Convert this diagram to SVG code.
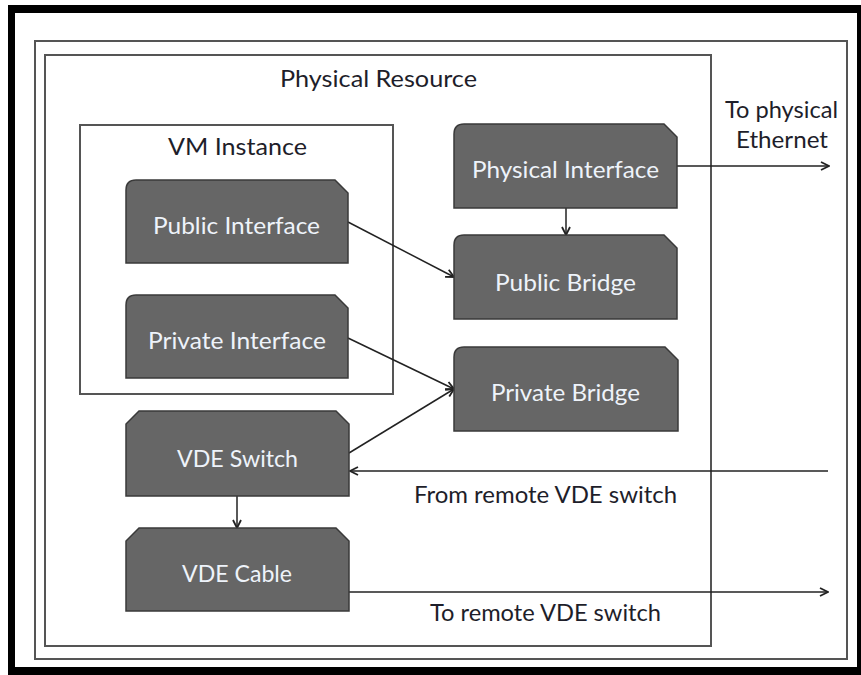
<svg xmlns="http://www.w3.org/2000/svg" width="861" height="675" viewBox="0 0 861 675">
  <style>
    .frame { fill: none; stroke: #555; stroke-width: 2; }
    .node { fill: #666666; stroke: #3a3a3a; stroke-width: 1.5; }
    .nlabel { font-family: Lato, "Liberation Sans", sans-serif; font-size: 23px; fill: #eef3fa; text-anchor: middle; }
    .label { font-family: Lato, "Liberation Sans", sans-serif; font-size: 23px; fill: #1e1e2a; text-anchor: middle; }
    .edge { fill: none; stroke: #222; stroke-width: 1.5; marker-end: url(#arrow); }
  </style>
  <defs>
    <marker id="arrow" viewBox="0 0 10 10" refX="9" refY="5" markerWidth="10" markerHeight="10" markerUnits="userSpaceOnUse" orient="auto">
      <path d="M1,1 L9,5 L1,9" fill="none" stroke="#222" stroke-width="1.8"/>
    </marker>
  </defs>

  <!-- page background and black border -->
  <rect x="0" y="0" width="861" height="675" fill="#ffffff"/>
  <path d="M8,5 H861 V675 H8 Z M15,13 V667 H857 V13 Z" fill="#000" fill-rule="evenodd"/>

  <!-- outer and inner enclosures -->
  <rect class="frame" x="35" y="41" width="812" height="618"/>
  <g id="physical-resource">
    <rect class="frame" x="45" y="55" width="666" height="591"/>
    <text class="label" x="378.5" y="87" textLength="197" lengthAdjust="spacingAndGlyphs">Physical Resource</text>
  </g>
  <g id="vm-instance">
    <rect class="frame" x="80" y="125" width="313" height="269"/>
    <text class="label" x="237.5" y="155" textLength="139" lengthAdjust="spacingAndGlyphs">VM Instance</text>
  </g>

  <!-- connectors -->
  <g id="connectors">
    <line class="edge" x1="677" y1="166" x2="829" y2="166"/>
    <line class="edge" x1="566" y1="208" x2="566" y2="235"/>
    <line class="edge" x1="348" y1="222" x2="454" y2="277"/>
    <line class="edge" x1="348" y1="338" x2="454" y2="389"/>
    <line class="edge" x1="349" y1="453" x2="454" y2="389"/>
    <line class="edge" x1="828" y1="471" x2="350" y2="471"/>
    <line class="edge" x1="237" y1="496" x2="237" y2="528"/>
    <line class="edge" x1="349" y1="592" x2="828" y2="592"/>
    <text class="label" x="781.5" y="118" textLength="113" lengthAdjust="spacingAndGlyphs">To physical</text>
    <text class="label" x="782" y="148" textLength="92" lengthAdjust="spacingAndGlyphs">Ethernet</text>
    <text class="label" x="545.5" y="503" textLength="263" lengthAdjust="spacingAndGlyphs">From remote VDE switch</text>
    <text class="label" x="545.5" y="621" textLength="231" lengthAdjust="spacingAndGlyphs">To remote VDE switch</text>
  </g>

  <!-- nodes: rounded top-left, clipped top-right -->
  <g id="physical-interface">
    <path class="node" d="M454,208 V134 Q454,124 464,124 H664 L677,137 V208 Z"/>
    <text class="nlabel" x="565.5" y="178" textLength="187" lengthAdjust="spacingAndGlyphs">Physical Interface</text>
  </g>
  <g id="public-bridge">
    <path class="node" d="M454,319 V245 Q454,235 464,235 H664 L677,248 V319 Z"/>
    <text class="nlabel" x="565.5" y="291" textLength="141" lengthAdjust="spacingAndGlyphs">Public Bridge</text>
  </g>
  <g id="private-bridge">
    <path class="node" d="M454,431 V357 Q454,347 464,347 H665 L678,360 V431 Z"/>
    <text class="nlabel" x="565.5" y="401" textLength="149" lengthAdjust="spacingAndGlyphs">Private Bridge</text>
  </g>
  <g id="public-interface">
    <path class="node" d="M126,263 V190 Q126,180 136,180 H335 L348,193 V263 Z"/>
    <text class="nlabel" x="236.5" y="234" textLength="167" lengthAdjust="spacingAndGlyphs">Public Interface</text>
  </g>
  <g id="private-interface">
    <path class="node" d="M126,378 V305 Q126,295 136,295 H335 L348,308 V378 Z"/>
    <text class="nlabel" x="237" y="349" textLength="178" lengthAdjust="spacingAndGlyphs">Private Interface</text>
  </g>
  <!-- VDE nodes: both top corners clipped -->
  <g id="vde-switch">
    <path class="node" d="M126,496 V424 L139,411 H336 L349,424 V496 Z"/>
    <text class="nlabel" x="237.5" y="467" textLength="121" lengthAdjust="spacingAndGlyphs">VDE Switch</text>
  </g>
  <g id="vde-cable">
    <path class="node" d="M126,611 V541 L139,528 H336 L349,541 V611 Z"/>
    <text class="nlabel" x="237" y="582" textLength="110" lengthAdjust="spacingAndGlyphs">VDE Cable</text>
  </g>
</svg>
